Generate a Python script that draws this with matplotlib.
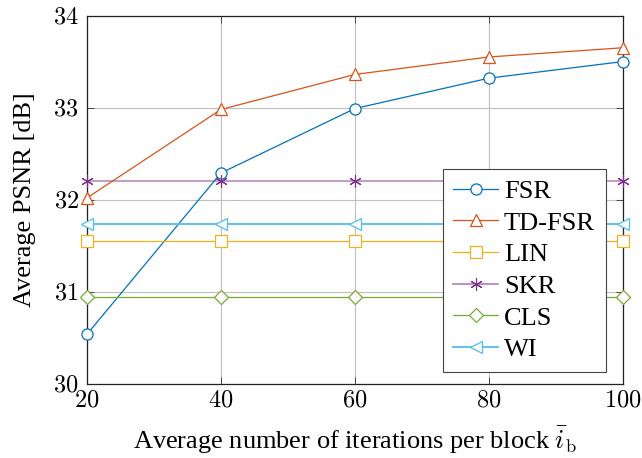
import matplotlib
matplotlib.use("Agg")
import matplotlib.pyplot as plt
from matplotlib.ticker import FuncFormatter

plt.rcParams['font.family'] = ['Liberation Serif', 'DejaVu Serif']
plt.rcParams['mathtext.fontset'] = 'cm'

iterations = [20, 40, 60, 80, 100]
fsr = [30.54, 32.29, 32.99, 33.32, 33.50]
td_fsr = [32.02, 32.98, 33.36, 33.55, 33.65]
lin = [31.55] * 5
skr = [32.20] * 5
cls = [30.94] * 5
wi = [31.74] * 5

series = [
    ("FSR", fsr, "#0072BD", "o"),
    ("TD-FSR", td_fsr, "#D95319", "^"),
    ("LIN", lin, "#EDB120", "s"),
    ("SKR", skr, "#7E2F8E", "x"),
    ("CLS", cls, "#77AC30", "D"),
    ("WI", wi, "#4DBEEE", "<"),
]

fig = plt.figure(figsize=(6.42, 4.58), dpi=100)
ax = fig.add_axes([0.1355, 0.1616, 0.8345, 0.8045])

for name, vals, col, mk in series:
    ms = 7 if mk == "D" else 8
    lw = 1.3 if name == "WI" else 0.9
    if mk == "x":
        ax.plot(iterations, vals, color=col, alpha=0.6, lw=1.1, zorder=2)
        ax.plot(iterations, vals, color=col, marker=(6, 2, 0), ms=9, mew=0.8,
                lw=0, zorder=3, clip_on=False)
        ax.plot([], [], color="#a774b2", lw=1.1, marker=(6, 2, 0), ms=9,
                mec=col, mew=0.8, label=name)
    else:
        ax.plot(iterations, vals, color=col, marker=mk, ms=ms, mfc="white",
                mew=0.9, lw=lw, label=name, clip_on=False, zorder=3)

ax.set_xlim(20, 100)
ax.set_ylim(30, 34)
ax.set_xticks(iterations)
ax.set_yticks([30, 31, 32, 33, 34])
ax.xaxis.set_major_formatter(FuncFormatter(lambda v, p: "$%d$" % v))
ax.yaxis.set_major_formatter(FuncFormatter(lambda v, p: "$%d$" % v))
ax.tick_params(direction="in", top=True, right=True, labelsize=17.5,
               length=5, width=0.6, color="#333333")
ax.tick_params(axis="x", pad=5)
ax.tick_params(axis="y", pad=6)
ax.grid(True, color="#bfbfbf", lw=0.8)
ax.set_axisbelow(True)
for s in ax.spines.values():
    s.set_linewidth(0.9)
    s.set_color("#222222")

ax.set_xlabel(r"Average number of iterations per block $\bar{i}_{\mathrm{b}}$",
              fontsize=19, labelpad=9)
ax.set_ylabel("Average PSNR [dB]", fontsize=19, labelpad=12)

leg = ax.legend(loc="lower right", bbox_to_anchor=(0.968, 0.033), fontsize=19,
                fancybox=False, framealpha=1, edgecolor="#444444",
                handlelength=1.7, borderpad=0.4, labelspacing=0.31,
                handletextpad=0.23, borderaxespad=0)
leg.get_frame().set_linewidth(0.8)

fig.savefig("out.png", dpi=100)
